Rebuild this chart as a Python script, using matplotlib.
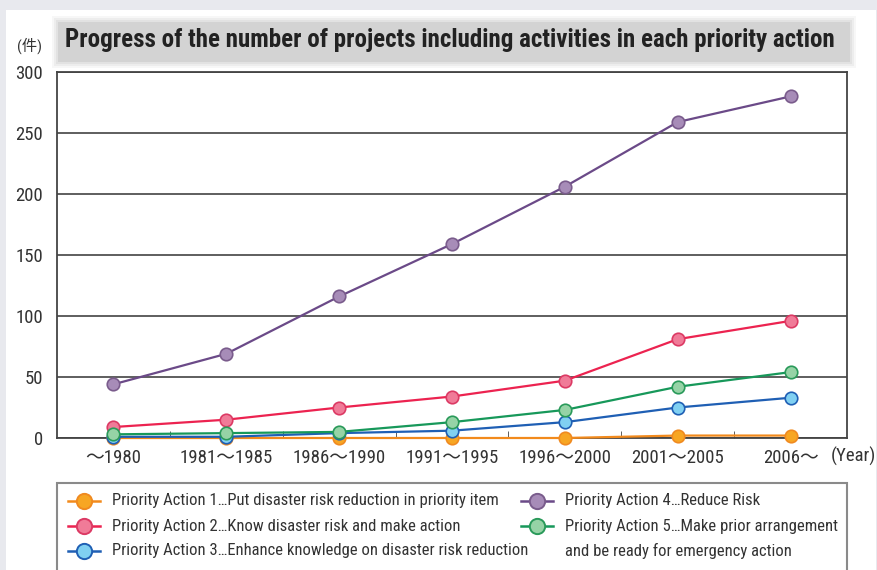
import matplotlib.pyplot as plt
from matplotlib.patches import Rectangle
from matplotlib.lines import Line2D

# periods and project counts per priority action
periods = ["～1980", "1981～1985", "1986～1990", "1991～1995", "1996～2000", "2001～2005", "2006～"]
action1 = [0, 0, 0, 0, 0, 2, 2]
action2 = [9, 15, 25, 34, 47, 81, 96]
action3 = [1, 1, 4, 6, 13, 25, 33]
action4 = [44, 69, 116, 159, 206, 259, 280]
action5 = [3, 4, 5, 13, 23, 42, 54]

labels = [
    "Priority Action 1…Put disaster risk reduction in priority item",
    "Priority Action 2…Know disaster risk and make action",
    "Priority Action 3…Enhance knowledge on disaster risk reduction",
    "Priority Action 4…Reduce Risk",
    "Priority Action 5…Make prior arrangement",
]
extra_line = "and be ready for emergency action"

# line colour, marker face, marker edge
styles = [
    ("#f28a1c", "#f7a623", "#f08a20"),
    ("#ec2350", "#f07b98", "#dc3a64"),
    ("#1f5fb4", "#80d0f2", "#1f5fb4"),
    ("#6b4a88", "#a78cb8", "#7a5c8c"),
    ("#17985a", "#96d3a6", "#2a9a5a"),
]
series = [action1, action2, action3, action4, action5]

FONT = ["Roboto Condensed", "Noto Sans CJK JP", "DejaVu Sans"]
plt.rcParams["font.family"] = FONT

fig = plt.figure(figsize=(8.77, 5.70), dpi=100, facecolor="#e8e9ee")
W, H = 877, 570

def fx(px):
    return px / W

def fy(py):
    return 1 - py / H

# white page
fig.patches.append(Rectangle((fx(6), 0), fx(870), fy(10), transform=fig.transFigure,
                             facecolor="white", edgecolor="none", zorder=-5))

# soft grey band behind the title
for pad, a in [(6, 0.10), (4, 0.15), (2, 0.2), (0, 0.35)]:
    fig.patches.append(Rectangle((fx(58 - pad), fy(62 + pad)), fx(792 + 2 * pad), (40 + 2 * pad) / H,
                                 transform=fig.transFigure, facecolor="#b9b9b9",
                                 edgecolor="none", alpha=a, zorder=-4))
fig.text(fx(450), fy(40), "Progress of the number of projects including activities in each priority action",
         ha="center", va="center", fontsize=18, fontweight="bold", color="#222222", zorder=3)
fig.text(fx(30), fy(46), "(件)", ha="center", va="center", fontsize=11, color="#333333")

ax = fig.add_axes([fx(57), fy(438), fx(790), 366 / H])
ax.set_zorder(5)
x = list(range(len(periods)))
for vals, (lc, mf, me) in zip(series, styles):
    ax.plot(x, vals, color=lc, lw=1.6, marker="o", markersize=9, markerfacecolor=mf,
            markeredgecolor=me, markeredgewidth=1.2, zorder=4, clip_on=False)

ax.set_xlim(-0.5, len(periods) - 0.5)
ax.set_ylim(0, 300)
ax.set_yticks(range(0, 301, 50))
ax.set_yticklabels([str(v) for v in range(0, 301, 50)], fontsize=13.5, color="#333333")
ax.set_xticks(x)
ax.set_xticklabels(periods, fontsize=13.5, color="#333333")
ax.set_xticks([i + 0.5 for i in x[:-1]], minor=True)
ax.tick_params(axis="x", which="major", length=0, pad=8)
ax.tick_params(axis="x", which="minor", length=5, direction="in", color="#444444")
ax.tick_params(axis="y", length=0, pad=10)
ax.grid(axis="y", color="#333333", lw=1.1, zorder=1)
for s in ax.spines.values():
    s.set_color("#444444")
    s.set_linewidth(1.3)
fig.text(fx(876), fy(456), "(Year)", ha="right", va="center", fontsize=13.5, color="#333333")

# legend box
fig.patches.append(Rectangle((fx(57), -0.05), fx(790), fy(483) + 0.05, transform=fig.transFigure,
                             facecolor="white", edgecolor="#8a8a8a", lw=1.5, zorder=1))
rows = [501, 526, 551]
slots = [(68, rows[0]), (68, rows[1]), (68, rows[2]), (521, rows[0]), (521, rows[1])]
for (px, py), lab, (lc, mf, me) in zip(slots, labels, styles):
    fig.lines.append(Line2D([fx(px), fx(px + 32)], [fy(py), fy(py)], transform=fig.transFigure,
                            color=lc, lw=1.8, zorder=2))
    fig.lines.append(Line2D([fx(px + 16)], [fy(py)], transform=fig.transFigure, marker="o",
                            markersize=11, markerfacecolor=mf, markeredgecolor=me,
                            markeredgewidth=1.4, zorder=3))
    fig.text(fx(px + 44), fy(py), lab, ha="left", va="center", fontsize=12, color="#333333")
fig.text(fx(565), fy(rows[2]), extra_line, ha="left", va="center", fontsize=12, color="#333333")

fig.savefig("out.png", dpi=100, facecolor=fig.get_facecolor())
